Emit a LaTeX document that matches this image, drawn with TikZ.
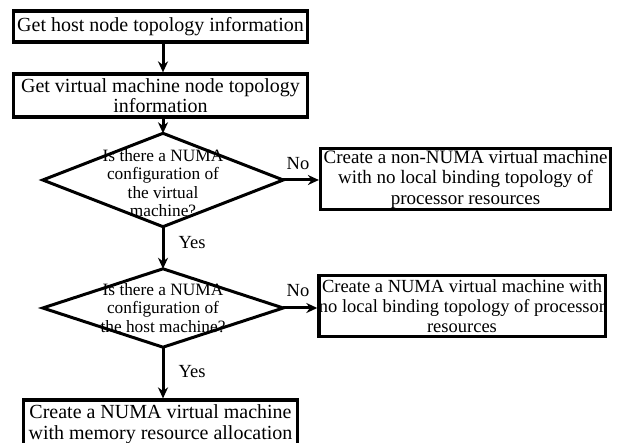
\documentclass[tikz,border=0pt]{standalone}
\usepackage{fontspec}
\setmainfont{Liberation Serif}
\usetikzlibrary{arrows.meta}
\begin{document}
\begin{tikzpicture}[x=1pt,y=-1pt,
  box/.style={draw,line width=3.2pt,align=center,inner sep=0pt,
    font=\fontsize{20}{20.5}\selectfont},
  dec/.style={align=center,inner sep=0pt,font=\fontsize{17.3}{18.5}\selectfont},
  flow/.style={line width=3pt,-{Stealth[length=11pt,width=10pt]}},
  lbl/.style={inner sep=0pt,font=\fontsize{18.5}{20}\selectfont}]
\useasboundingbox (0,0) rectangle (618,443);
\begin{scope}
\clip (0,0) rectangle (618,443);
% process steps
\node[box,minimum width=294,minimum height=31] (host) at (160.5,26.5)
  {Get host node topology information};
\node[box,minimum width=294,minimum height=43,
  font=\fontsize{20}{18}\selectfont] (vm) at (160.5,95.5)
  {Get virtual machine node topology\\information};
% decision on the virtual machine
\node[dec,minimum width=240,minimum height=93] (d1) at (163,180) {};
\draw[line width=3pt,line join=miter] (d1.north) -- (d1.east) -- (d1.south) -- (d1.west) -- cycle;
\node[dec] (d1t) at (163,183) {Is there a NUMA\\configuration of\\the virtual\\machine?};
\node[box,minimum width=290,minimum height=61,
  font=\fontsize{19}{20.5}\selectfont] (nonnuma) at (465.5,179)
  {Create a non-NUMA virtual machine\\with no local binding topology of\\processor resources};
% decision on the host
\node[dec,minimum width=240,minimum height=78] (d2) at (163,308) {};
\draw[line width=3pt,line join=miter] (d2.north) -- (d2.east) -- (d2.south) -- (d2.west) -- cycle;
\node[dec] (d2t) at (163,308) {Is there a NUMA\\configuration of\\the host machine?};
\node[box,minimum width=283,minimum height=61,
  font=\fontsize{18.5}{20}\selectfont] (nobind) at (462,306)
  {Create a NUMA virtual machine with\\no local binding topology of processor\\resources};
% final step
\node[box,minimum width=274,minimum height=48] (mem) at (160.5,424)
  {Create a NUMA virtual machine\\with memory resource allocation};
% connectors
\draw[flow] (host.south -| d1.north) -- (vm.north -| d1.north);
\draw[flow] (vm.south -| d1.north) -- (d1.north);
\draw[flow] (d1.east) -- (d1.east -| nonnuma.west);
\draw[flow] (d1.south) -- (d2.north);
\draw[flow] (d2.east) -- (d2.east -| nobind.west);
\draw[flow] (d2.south) -- (mem.north -| d2.south);
% branch labels
\node[lbl] (no1) at (298,164) {No};
\node[lbl] (yes1) at (192,243) {Yes};
\node[lbl] (no2) at (298,291) {No};
\node[lbl] (yes2) at (192,372) {Yes};
\end{scope}
\end{tikzpicture}
\end{document}
